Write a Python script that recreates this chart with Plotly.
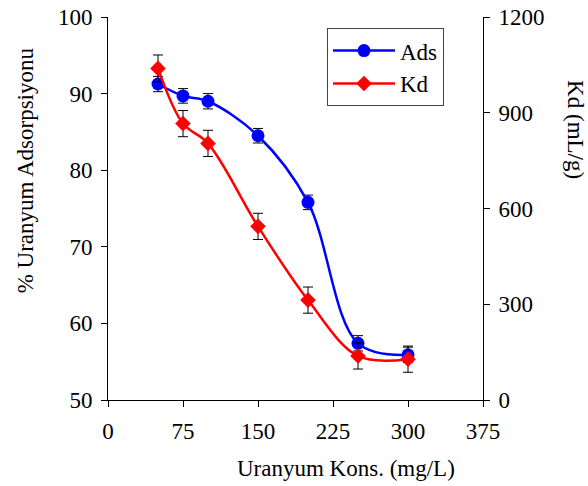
import plotly.graph_objects as go

conc = [50, 75, 100, 150, 200, 250, 300]
ads = [91.25, 89.7, 89.0, 84.5, 75.8, 57.4, 55.9]
ads_err = [1.0, 0.95, 1.0, 0.95, 0.95, 1.0, 1.0]
kd = [1039, 866, 804, 544, 313, 138, 128]
kd_err = [42, 41, 41, 41, 41, 41, 41]

x_ticks = [0, 75, 150, 225, 300, 375]
font = "Liberation Serif"
fs = 23

fig = go.Figure()
fig.add_trace(go.Scatter(
    x=conc, y=ads, name="Ads", mode="lines+markers",
    line=dict(color="#0000FF", width=2.5, shape="spline", smoothing=1.0),
    marker=dict(symbol="circle", size=13, color="#0000FF"),
    error_y=dict(type="data", array=ads_err, color="black", thickness=1, width=5),
))
fig.add_trace(go.Scatter(
    x=conc, y=kd, name="Kd", mode="lines+markers", yaxis="y2",
    line=dict(color="#FF0000", width=2.5, shape="spline", smoothing=1.0),
    marker=dict(symbol="diamond", size=12, color="#FF0000"),
    error_y=dict(type="data", array=kd_err, color="black", thickness=1, width=5),
))

axis_common = dict(showgrid=False, zeroline=False, showline=True, linecolor="black",
                   linewidth=1, ticks="outside", ticklen=6, tickcolor="black",
                   ticklabelstandoff=4, automargin=False,
                   tickfont=dict(family=font, size=fs, color="black"))

fig.update_layout(
    width=588, height=486,
    margin=dict(l=108, r=105, t=17, b=86, autoexpand=False),
    paper_bgcolor="white", plot_bgcolor="white",
    font=dict(family=font, color="black"),
    xaxis=dict(range=[0, 375], tickvals=x_ticks, **axis_common),
    yaxis=dict(range=[50, 100], dtick=10, **axis_common),
    yaxis2=dict(range=[0, 1200], dtick=300, overlaying="y", side="right", **axis_common),
    legend=dict(x=0.584, y=0.971, xanchor="left", yanchor="top",
                bordercolor="#444", borderwidth=1, bgcolor="white", itemwidth=62,
                font=dict(family=font, size=fs, color="black")),
    showlegend=True,
    annotations=[
        dict(text="Uranyum Kons. (mg/L)", xref="paper", yref="paper", x=0.635, y=-0.178,
             xanchor="center", yanchor="middle", showarrow=False,
             font=dict(family=font, size=fs, color="black")),
        dict(text="% Uranyum Adsorpsiyonu", xref="paper", yref="paper", x=-0.221, y=0.60,
             xanchor="center", yanchor="middle", showarrow=False, textangle=-90,
             font=dict(family=font, size=fs, color="black")),
        dict(text="Kd (mL/g)", xref="paper", yref="paper", x=1.245, y=0.705,
             xanchor="center", yanchor="middle", showarrow=False, textangle=90,
             font=dict(family=font, size=fs, color="black")),
    ],
)

fig.write_html("out.html")
